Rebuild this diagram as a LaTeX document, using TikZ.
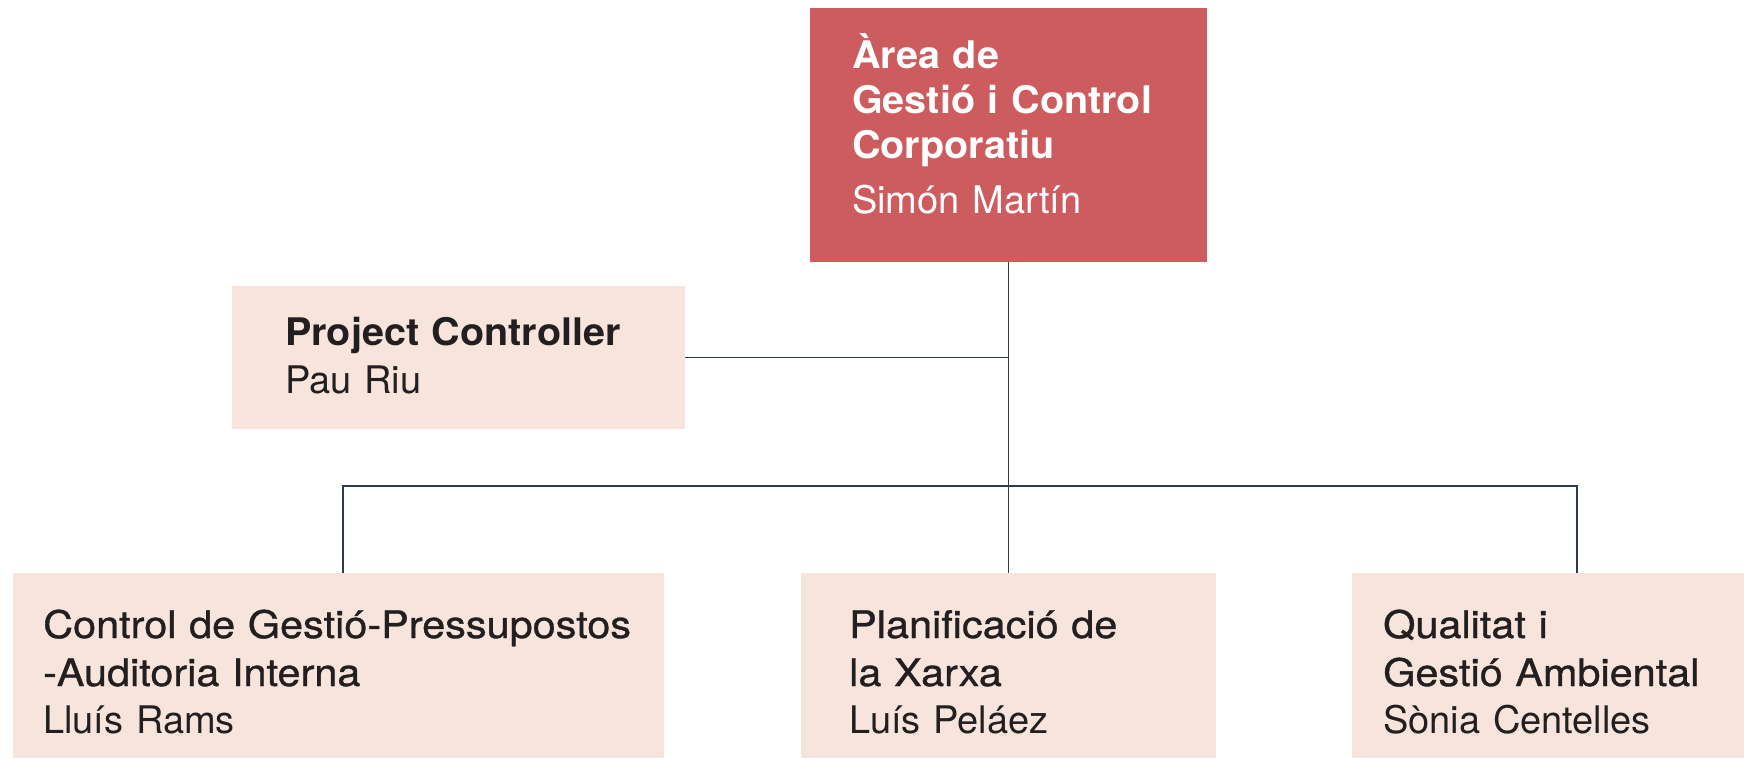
\documentclass[tikz,border=0pt]{standalone}
\usepackage{fontspec}
\setmainfont{TeX Gyre Heros}
\newfontfamily\hdfont[FakeStretch=1.04]{TeX Gyre Heros}
\newfontfamily\medfont[FakeBold=0.9,FakeStretch=1.09]{TeX Gyre Heros}
\newfontfamily\namefont{TeX Gyre Heros}
\definecolor{redbox}{HTML}{CD5C5E}
\definecolor{palebox}{HTML}{F7E4DC}
\definecolor{ink}{HTML}{231F20}
\definecolor{wire}{HTML}{2E3A48}
\tikzset{
  boxred/.style={fill=redbox, draw=none, inner sep=0pt},
  boxpale/.style={fill=palebox, draw=none, inner sep=0pt},
  txt/.style={anchor=base west, inner sep=0pt, align=left, text width=700pt},
  wirestyle/.style={draw=wire, line width=1.2pt}
}
\begin{document}
\begin{tikzpicture}[x=1pt,y=-1pt]
\useasboundingbox (0,0) rectangle (1744,758);
% boxes
\node[boxred, minimum width=397pt, minimum height=254pt] (top) at (1008.5,135) {};
\node[boxpale, minimum width=453pt, minimum height=143pt] (pc) at (458.5,357.5) {};
\node[boxpale, minimum width=651pt, minimum height=185pt] (b3) at (338.5,665.5) {};
\node[boxpale, minimum width=415pt, minimum height=185pt] (b4) at (1008.5,665.5) {};
\node[boxpale, minimum width=392pt, minimum height=185pt] (b5) at (1548,665.5) {};
% connectors
\coordinate (j3) at (343,486);
\coordinate (j5) at (1577,486);
\draw[wirestyle] (top.south) -- (b4.north);
\draw[wirestyle] (pc.east) -- (pc.east -| top.south);
\draw[wirestyle] (j3 |- b3.north) -- (j3) -- (j5) -- (j5 |- b5.north);
% texts
\node[txt, text=white, font=\fontsize{38}{45}\selectfont] (ttop) at (852,68)
  {{\hdfont\bfseries Àrea de\\Gestió i Control\\Corporatiu}\\[10pt]{\namefont Simón Martín}};
\node[txt, text=ink, font=\fontsize{38}{48}\selectfont] (tpc) at (285,345)
  {{\hdfont\bfseries Project Controller}\\{\namefont Pau Riu}};
\node[txt, text=ink, font=\fontsize{38}{48}\selectfont] (tb3) at (43,638)
  {{\medfont Control de Gestió-Pressupostos\\-Auditoria Interna}\\[-1pt]{\namefont Lluís Rams}};
\node[txt, text=ink, font=\fontsize{38}{48}\selectfont] (tb4) at (849,638)
  {{\medfont Planificació de\\la Xarxa}\\[-1pt]{\namefont Luís Peláez}};
\node[txt, text=ink, font=\fontsize{38}{48}\selectfont] (tb5) at (1383,638)
  {{\medfont Qualitat i\\Gestió Ambiental}\\[-1pt]{\namefont Sònia Centelles}};
\end{tikzpicture}
\end{document}
